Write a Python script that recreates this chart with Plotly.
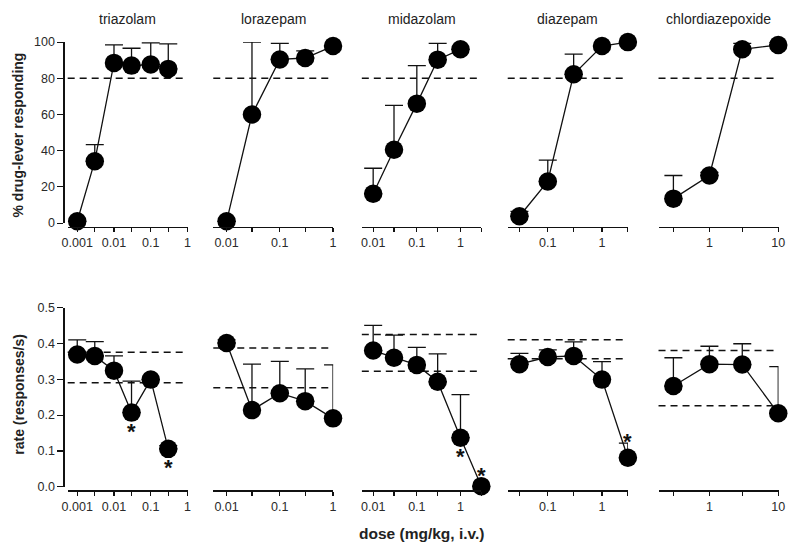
import numpy as np
import plotly.graph_objects as go

W, H = 800, 554

# ---------------- data ----------------
drugs = ["triazolam", "lorazepam", "midazolam", "diazepam", "chlordiazepoxide"]

# drug-lever responding (%)
disc_doses = {
    "triazolam": [0.001, 0.003, 0.01, 0.03, 0.1, 0.3],
    "lorazepam": [0.01, 0.03, 0.1, 0.3, 1],
    "midazolam": [0.01, 0.03, 0.1, 0.3, 1],
    "diazepam": [0.03, 0.1, 0.3, 1, 3],
    "chlordiazepoxide": [0.3, 1, 3, 10],
}
disc_mean = {
    "triazolam": [1, 34.2, 88.5, 87, 87.6, 85.2],
    "lorazepam": [1, 60, 90.4, 91.2, 97.8],
    "midazolam": [16.2, 40.5, 66, 90.3, 96],
    "diazepam": [3.8, 23, 82.2, 97.8, 100],
    "chlordiazepoxide": [13.5, 26.3, 96, 98.4],
}
disc_sem = {
    "triazolam": [0, 9.2, 10, 9.6, 12, 13.8],
    "lorazepam": [0, 40, 8.9, 3.9, 0],
    "midazolam": [14.1, 24.5, 21, 9, 0],
    "diazepam": [2.7, 11.8, 11.1, 0, 0],
    "chlordiazepoxide": [12.8, 1.7, 3.3, 1.6],
}
disc_criterion = 80

# response rate (responses/s)
rate_doses = {
    "triazolam": [0.001, 0.003, 0.01, 0.03, 0.1, 0.3],
    "lorazepam": [0.01, 0.03, 0.1, 0.3, 1],
    "midazolam": [0.01, 0.03, 0.1, 0.3, 1, 3],
    "diazepam": [0.03, 0.1, 0.3, 1, 3],
    "chlordiazepoxide": [0.3, 1, 3, 10],
}
rate_mean = {
    "triazolam": [0.369, 0.365, 0.324, 0.207, 0.299, 0.106],
    "lorazepam": [0.401, 0.214, 0.261, 0.239, 0.191],
    "midazolam": [0.380, 0.360, 0.340, 0.293, 0.137, 0.002],
    "diazepam": [0.342, 0.362, 0.365, 0.299, 0.081],
    "chlordiazepoxide": [0.281, 0.342, 0.341, 0.205],
}
rate_sem = {
    "triazolam": [0.041, 0.040, 0.041, 0.088, 0.0, 0.009],
    "lorazepam": [0.009, 0.128, 0.089, 0.090, 0.149],
    "midazolam": [0.070, 0.063, 0.049, 0.078, 0.120, 0.0],
    "diazepam": [0.030, 0.020, 0.039, 0.050, 0.041],
    "chlordiazepoxide": [0.079, 0.050, 0.058, 0.130],
}
# control range (dashed lines)
rate_control = {
    "triazolam": [0.375, 0.290],
    "lorazepam": [0.387, 0.276],
    "midazolam": [0.425, 0.322],
    "diazepam": [0.410, 0.357],
    "chlordiazepoxide": [0.380, 0.226],
}
# significance marks: (dose, placement)
rate_signif = {
    "triazolam": [(0.03, "below"), (0.3, "below")],
    "midazolam": [(1, "below"), (3, "above")],
    "diazepam": [(3, "above_err")],
}

# axis ticks
tick_vals = {
    "triazolam": [0.001, 0.003, 0.01, 0.03, 0.1, 0.3, 1],
    "lorazepam": [0.01, 0.03, 0.1, 0.3, 1],
    "midazolam": [0.01, 0.03, 0.1, 0.3, 1, 3],
    "diazepam": [0.03, 0.1, 0.3, 1, 3],
    "chlordiazepoxide": [0.3, 1, 3, 10],
}
tick_text = {
    "triazolam": ["0.001", "", "0.01", "", "0.1", "", "1"],
    "lorazepam": ["0.01", "", "0.1", "", "1"],
    "midazolam": ["0.01", "", "0.1", "", "1", ""],
    "diazepam": ["", "0.1", "", "1", ""],
    "chlordiazepoxide": ["", "1", "", "10"],
}
disc_yticks = [0, 20, 40, 60, 80, 100]
rate_yticks = [0.0, 0.1, 0.2, 0.3, 0.4, 0.5]
rate_yticktext = ["0.0", "0.1", "0.2", "0.3", "0.4", "0.5"]

# ---------------- layout geometry (pixels) ----------------
panel_px = [(62.7, 184.6), (210.7, 332.6), (361.7, 483.3), (510.0, 632.3), (663.3, 785.3)]
panel_xrange = [(-3.26, 0.003), (-2.25, 0.003), (-2.26, 0.48), (-1.739, 0.48), (-0.739, 1.004)]
top_y_px = (36.0, 221.7)      # 100 -> 0
top_xaxis_px = 225.5
bot_y_px = (308.3, 492.3)     # 0.5 -> 0
bot_xaxis_px = 496.0
yaxis_x_px = 58.3


def px(p):
    return p / W


def py(p):
    return 1 - p / H


FONT = "Liberation Sans, Arial, sans-serif"
TICKFONT = dict(family=FONT, size=12.5, color="#2a2a2a")

fig = go.Figure()
layout = dict(
    width=W, height=H, margin=dict(l=0, r=0, t=0, b=0),
    paper_bgcolor="white", plot_bgcolor="rgba(0,0,0,0)",
    showlegend=False, font=dict(family=FONT, color="#222"),
)
shapes = []
annotations = []

for row in range(2):
    for i, drug in enumerate(drugs):
        k = row * 5 + i + 1
        xn = "xaxis" if k == 1 else f"xaxis{k}"
        yn = "yaxis" if k == 1 else f"yaxis{k}"
        xr = "x" if k == 1 else f"x{k}"
        yr = "y" if k == 1 else f"y{k}"
        x0p, x1p = panel_px[i]
        if row == 0:
            ydom = [py(top_y_px[1]), py(top_y_px[0])]
            xpos = py(top_xaxis_px)
            yrange = [0, 100]
            doses, mean, sem = disc_doses[drug], disc_mean[drug], disc_sem[drug]
        else:
            ydom = [py(bot_y_px[1]), py(bot_y_px[0])]
            xpos = py(bot_xaxis_px)
            yrange = [0, 0.5]
            doses, mean, sem = rate_doses[drug], rate_mean[drug], rate_sem[drug]

        layout[xn] = dict(
            type="log", domain=[px(x0p), px(x1p)], range=list(panel_xrange[i]),
            anchor="free", position=xpos, showgrid=False, zeroline=False,
            showline=True, linecolor="#111", linewidth=1.2,
            ticks="outside", ticklen=4, tickwidth=1.1, tickcolor="#111",
            tickvals=tick_vals[drug], ticktext=tick_text[drug],
            tickfont=TICKFONT, fixedrange=True,
        )
        ycfg = dict(
            domain=ydom, range=yrange, anchor="free", position=px(yaxis_x_px),
            showgrid=False, zeroline=False, fixedrange=True,
        )
        if i == 0:
            ycfg.update(
                showline=True, linecolor="#111", linewidth=1.2,
                ticks="outside", ticklen=6, tickwidth=1.1, tickcolor="#111",
                tickfont=TICKFONT,
                tickvals=disc_yticks if row == 0 else rate_yticks,
                ticktext=[str(v) for v in disc_yticks] if row == 0 else rate_yticktext,
            )
        else:
            ycfg.update(visible=False)
        layout[yn] = ycfg

        # reference lines
        refs = [disc_criterion] if row == 0 else rate_control[drug]
        for v in refs:
            shapes.append(dict(
                type="line", xref=f"{xr} domain", yref=yr, x0=0, x1=0.985, y0=v, y1=v,
                line=dict(color="#111", width=1.5, dash="7px,5px"), layer="below",
            ))

        fig.add_trace(go.Scatter(
            x=doses, y=mean, xaxis=xr, yaxis=yr, mode="lines+markers",
            line=dict(color="#111", width=1.3),
            marker=dict(color="black", size=18.5),
            error_y=dict(type="data", symmetric=False, array=sem,
                         arrayminus=[0] * len(sem), color="#111",
                         thickness=1.3, width=9),
            cliponaxis=False, hoverinfo="skip",
        ))

        if row == 0:
            annotations.append(dict(
                text=drug, xref="paper", yref="paper",
                x=px((x0p + x1p) / 2), y=py(12), showarrow=False,
                font=dict(family=FONT, size=14, color="#222"),
                xanchor="center", yanchor="middle",
            ))
        else:
            for dose, place in rate_signif.get(drug, []):
                j = doses.index(dose)
                if place == "below":
                    yv, shift = mean[j], -19
                elif place == "above":
                    yv, shift = mean[j], 11
                else:
                    yv, shift = mean[j] + sem[j], 2
                annotations.append(dict(
                    text="<b>*</b>", xref=xr, yref=yr, x=np.log10(dose), y=yv,
                    yshift=shift, showarrow=False,
                    font=dict(family=FONT, size=22, color="#111"),
                    xanchor="center", yanchor="middle",
                ))

# axis titles
annotations.append(dict(
    text="<b>% drug-lever responding</b>", xref="paper", yref="paper",
    x=px(12), y=py(131), textangle=-90, showarrow=False,
    font=dict(family=FONT, size=14, color="#222"), xanchor="center", yanchor="middle",
))
annotations.append(dict(
    text="<b>rate (responses/s)</b>", xref="paper", yref="paper",
    x=px(13), y=py(397), textangle=-90, showarrow=False,
    font=dict(family=FONT, size=14, color="#222"), xanchor="center", yanchor="middle",
))
annotations.append(dict(
    text="<b>dose (mg/kg, i.v.)</b>", xref="paper", yref="paper",
    x=px(422), y=py(540), showarrow=False,
    font=dict(family=FONT, size=15.5, color="#222"), xanchor="center", yanchor="middle",
))

layout["shapes"] = shapes
layout["annotations"] = annotations
fig.update_layout(**layout)
fig.write_html(
    "out.html",
    config={"displayModeBar": False, "staticPlot": True},
    post_script="document.body.style.margin='0';document.body.style.overflow='hidden';",
)
